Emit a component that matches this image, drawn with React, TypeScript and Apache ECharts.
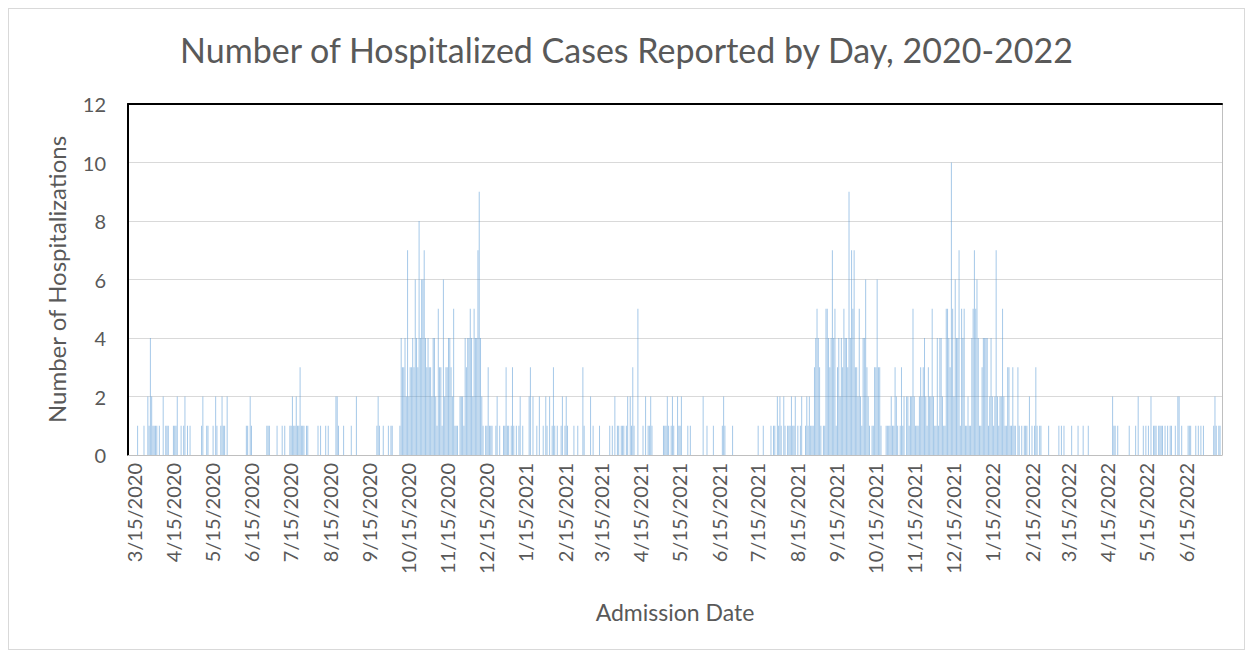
import React, { useEffect, useRef } from "react";
import * as echarts from "echarts";

// Daily counts, one character per day (base-36 digit), one string per month.
// 2020: March (from 3/11) .. December
const counts2020 = [
  "000000010000100214211",
  "110100201110001112001012010100",
  "0000001200110001021001211020000",
  "000000000011021000000000001110",
  "0000100010100011211211311101100",
  "0000010100010100000221000100000",
  "100020000000000000001210010001",
  "0110000014334272334364384667434",
  "332442153316233443251110222143",
  "4454254479421011311100120100113",
];
// 2021: January .. December
const counts2021 = [
  "1101310101201000023020010200102",
  "1020131010012012100001001000",
  "3100002010000100000001010201101",
  "110120213100500010201121000000",
  "0011121012100211200001010000000",
  "002001000010000001210000010000",
  "0000000000000001000100000101102",
  "1210210111211201012001212111345",
  "431011554347451342435443947573",
  "3252144632101133633100011112113",
  "210131202212252111232342132252",
  "1141442115543a52644715451121145",
];
// 2022: January .. July (to 7/13)
const counts2022 = [
  "7564113444412421272122521133113",
  "1103101011102010131011000001",
  "0000000101010000010000100010001",
  "000000000000000000211010000000",
  "0100001020001010102011101111010",
  "101100102201000011100010101010",
  "0000001210110",
];

const yMin = 0;
const yMax = 12;
const yStep = 2;

const years = [
  { year: 2020, firstMonth: 3, firstDay: 11, months: counts2020 },
  { year: 2021, firstMonth: 1, firstDay: 1, months: counts2021 },
  { year: 2022, firstMonth: 1, firstDay: 1, months: counts2022 },
];

const categories: string[] = [];
const values: number[] = [];
years.forEach(({ year, firstMonth, firstDay, months }) => {
  months.forEach((s, i) => {
    const m = firstMonth + i;
    const d0 = i === 0 ? firstDay : 1;
    for (let k = 0; k < s.length; k++) {
      categories.push(`${m}/${d0 + k}/${year}`);
      values.push(parseInt(s[k], 36));
    }
  });
});

const FONT = "Lato, 'Liberation Sans', sans-serif";
const TEXT = "#595959";

export default function App() {
  const ref = useRef<HTMLDivElement>(null);
  useEffect(() => {
    if (!ref.current) return;
    const chart = echarts.init(ref.current, undefined, { renderer: "svg" });
    chart.setOption({
      animation: false,
      backgroundColor: "#ffffff",
      textStyle: { fontFamily: FONT },
      title: {
        text: "Number of Hospitalized Cases Reported by Day, 2020-2022",
        left: "center",
        top: 18,
        textStyle: { fontSize: 34, fontWeight: "normal", color: TEXT, fontFamily: FONT },
      },
      grid: { left: 119, top: 95, right: 22, bottom: 194, containLabel: false },
      xAxis: [
        {
          type: "category",
          data: categories,
          position: "bottom",
          axisLine: { onZero: false, lineStyle: { color: "#bfbfbf", width: 1 } },
          axisTick: { show: false },
          axisLabel: {
            interval: (_i: number, v: string) => v.split("/")[1] === "15",
            rotate: 90,
            fontSize: 20,
            color: TEXT,
            fontFamily: FONT,
            margin: 8,
          },
          name: "Admission Date",
          nameLocation: "middle",
          nameGap: 145,
          nameTextStyle: { fontSize: 23, color: TEXT, fontFamily: FONT },
        },
        {
          type: "category",
          data: categories,
          position: "top",
          axisLine: { onZero: false, lineStyle: { color: "#000000", width: 2 } },
          axisTick: { show: false },
          axisLabel: { show: false },
        },
      ],
      yAxis: [
        {
          type: "value",
          min: yMin,
          max: yMax,
          interval: yStep,
          position: "left",
          axisLine: { show: true, onZero: false, lineStyle: { color: "#000000", width: 2 } },
          axisTick: { show: false },
          axisLabel: { fontSize: 20, color: TEXT, fontFamily: FONT, margin: 22 },
          splitLine: { lineStyle: { color: "#d9d9d9", width: 1 } },
          name: "Number of Hospitalizations",
          nameLocation: "middle",
          nameGap: 60,
          nameRotate: 90,
          nameTextStyle: { fontSize: 24, color: TEXT, fontFamily: FONT },
        },
        {
          type: "value",
          min: yMin,
          max: yMax,
          interval: yStep,
          position: "right",
          axisLine: { show: true, onZero: false, lineStyle: { color: "#bfbfbf", width: 1 } },
          axisTick: { show: false },
          axisLabel: { show: false },
          splitLine: { show: false },
        },
      ],
      series: [
        {
          type: "bar",
          xAxisIndex: 0,
          yAxisIndex: 0,
          data: values,
          barCategoryGap: "55%",
          itemStyle: { color: "#5b9bd5", opacity: 0.55 },
          silent: true,
        },
      ],
    });
    return () => chart.dispose();
  }, []);
  return (
    <div
      style={{
        width: 1237,
        height: 642,
        border: "1px solid #d9d9d9",
        boxSizing: "border-box",
        background: "#fff",
      }}
    >
      <div ref={ref} style={{ width: 1235, height: 640 }} />
    </div>
  );
}
